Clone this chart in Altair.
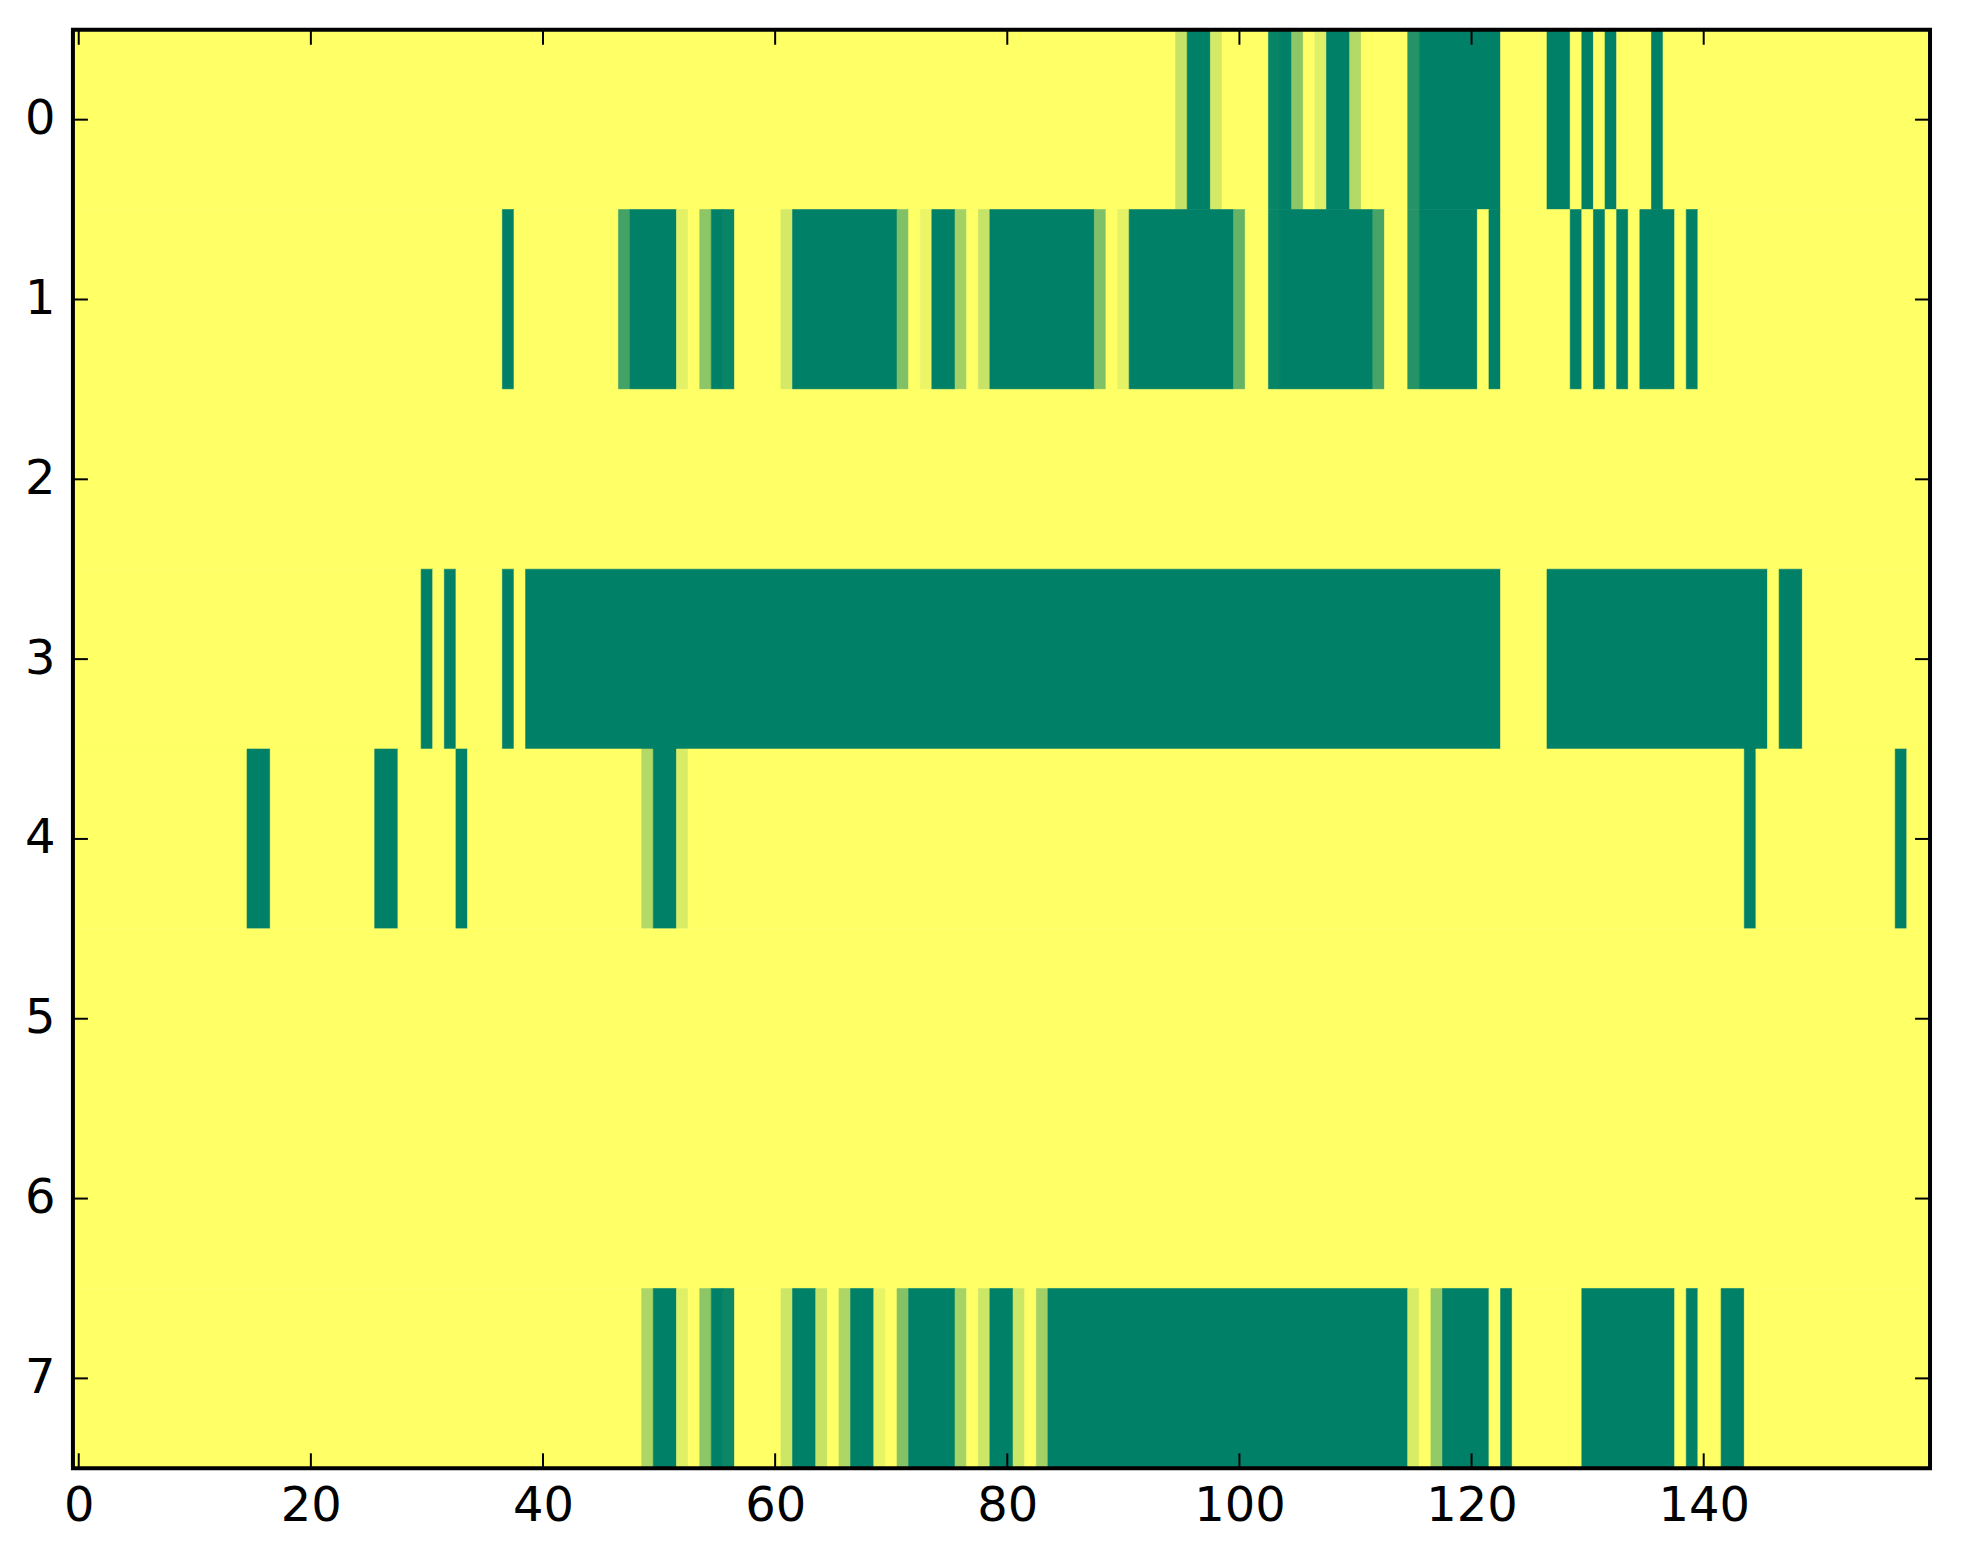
import altair as alt
import pandas as pd

N_COLS = 160
N_ROWS = 8

# Runs of equal value per row: (first column, last column, value). Cells not listed are 0.
row0 = [(95, 95, 0.22), (96, 97, 1.0), (98, 98, 0.17), (103, 103, 0.97), (104, 104, 1.0),
        (105, 105, 0.45), (107, 107, 0.12), (108, 109, 1.0), (110, 110, 0.30),
        (115, 115, 0.85), (116, 122, 1.0), (127, 128, 1.0), (130, 130, 1.0),
        (132, 132, 1.0), (136, 136, 1.0)]
row1 = [(37, 37, 1.0), (47, 47, 0.73), (48, 51, 1.0), (52, 52, 0.11), (54, 54, 0.45),
        (55, 55, 1.0), (56, 56, 0.97), (61, 61, 0.17), (62, 70, 1.0), (71, 71, 0.50),
        (73, 73, 0.08), (74, 75, 1.0), (76, 76, 0.36), (78, 78, 0.22), (79, 87, 1.0),
        (88, 88, 0.50), (90, 90, 0.10), (91, 99, 1.0), (100, 100, 0.60), (103, 103, 0.97),
        (104, 111, 1.0), (112, 112, 0.72), (115, 115, 0.85), (116, 120, 1.0),
        (122, 122, 1.0), (129, 129, 1.0), (131, 131, 1.0), (133, 133, 1.0),
        (135, 137, 1.0), (139, 139, 1.0)]
row2 = []
row3 = [(30, 30, 1.0), (32, 32, 1.0), (37, 37, 1.0), (39, 122, 1.0), (127, 145, 1.0),
        (147, 148, 1.0)]
row4 = [(15, 16, 1.0), (26, 27, 1.0), (33, 33, 1.0), (49, 49, 0.30), (50, 51, 1.0),
        (52, 52, 0.15), (144, 144, 1.0), (157, 157, 1.0)]
row5 = []
row6 = []
row7 = [(49, 49, 0.32), (50, 51, 1.0), (52, 52, 0.12), (54, 54, 0.45), (55, 55, 1.0),
        (56, 56, 0.95), (61, 61, 0.20), (62, 63, 1.0), (64, 64, 0.22), (66, 66, 0.32),
        (67, 68, 1.0), (69, 69, 0.09), (71, 71, 0.48), (72, 75, 1.0), (76, 76, 0.35),
        (78, 78, 0.20), (79, 80, 1.0), (81, 81, 0.20), (83, 83, 0.36), (84, 114, 1.0),
        (115, 115, 0.15), (117, 117, 0.42), (118, 121, 1.0), (123, 123, 1.0),
        (130, 137, 1.0), (139, 139, 1.0), (142, 143, 1.0)]

rows = [row0, row1, row2, row3, row4, row5, row6, row7]

x_ticks = [0, 20, 40, 60, 80, 100, 120, 140]
y_ticks = [0, 1, 2, 3, 4, 5, 6, 7]

# Expand to full rows, then merge equal neighbours into blocks (zeros included)
recs = []
for r, runs in enumerate(rows):
    vals = [0.0] * N_COLS
    for a, b, v in runs:
        for c in range(a, b + 1):
            vals[c] = v
    start = 0
    for c in range(1, N_COLS + 1):
        if c == N_COLS or vals[c] != vals[start]:
            recs.append({"col0": start - 0.5, "col1": c - 0.5,
                         "row0": r - 0.5, "row1": r + 0.5, "v": vals[start]})
            start = c
cells = pd.DataFrame(recs)

W, H = 1859, 1440
FONT = "DejaVu Sans"

xscale = alt.Scale(domain=[-0.5, N_COLS - 0.5], nice=False, zero=False)
yscale = alt.Scale(domain=[-0.5, N_ROWS - 0.5], nice=False, zero=False, reverse=True)
cscale = alt.Scale(domain=[0, 1], range=["#ffff66", "#008066"], interpolate="rgb")

xaxis = alt.Axis(values=x_ticks, title=None, grid=False, ticks=False, domain=False,
                 labelFontSize=48, labelFont=FONT, labelColor="black",
                 labelPadding=14, labelFlush=False, labelOverlap=False, format="d")
yaxis = alt.Axis(values=y_ticks, title=None, grid=False, ticks=False, domain=False,
                 labelFontSize=48, labelFont=FONT, labelColor="black",
                 labelPadding=18, labelFlush=False, labelOverlap=False, format="d")

heat = alt.Chart(cells).mark_rect(strokeWidth=0.6).encode(
    x=alt.X("col0:Q", scale=xscale, axis=xaxis),
    x2="col1:Q",
    y=alt.Y("row0:Q", scale=yscale, axis=yaxis),
    y2="row1:Q",
    color=alt.Color("v:Q", scale=cscale, legend=None),
    stroke=alt.Stroke("v:Q", scale=cscale, legend=None),
)

xt = pd.DataFrame({"t": x_ticks})
yt = pd.DataFrame({"r": y_ticks})
TL = 15

tick_bottom = alt.Chart(xt).mark_rule(color="black", strokeWidth=2).encode(
    x=alt.X("t:Q", scale=xscale, axis=xaxis), y=alt.value(H), y2=alt.value(H - TL))
tick_top = alt.Chart(xt).mark_rule(color="black", strokeWidth=2).encode(
    x=alt.X("t:Q", scale=xscale, axis=xaxis), y=alt.value(0), y2=alt.value(TL))
tick_left = alt.Chart(yt).mark_rule(color="black", strokeWidth=2).encode(
    y=alt.Y("r:Q", scale=yscale, axis=yaxis), x=alt.value(0), x2=alt.value(TL))
tick_right = alt.Chart(yt).mark_rule(color="black", strokeWidth=2).encode(
    y=alt.Y("r:Q", scale=yscale, axis=yaxis), x=alt.value(W), x2=alt.value(W - TL))

frame = alt.Chart(pd.DataFrame({"k": [0]})).mark_rect(
    filled=False, stroke="black", strokeWidth=4).encode(
    x=alt.value(0), x2=alt.value(W), y=alt.value(0), y2=alt.value(H))

chart = alt.layer(heat, tick_bottom, tick_top, tick_left, tick_right, frame).properties(
    width=W, height=H,
    autosize=alt.AutoSizeParams(type="none"),
    padding={"left": 65, "top": 21, "right": 25, "bottom": 80},
    background="white",
).configure_view(stroke=None)

chart.save("out.html", embed_options={"renderer": "svg", "actions": False})
